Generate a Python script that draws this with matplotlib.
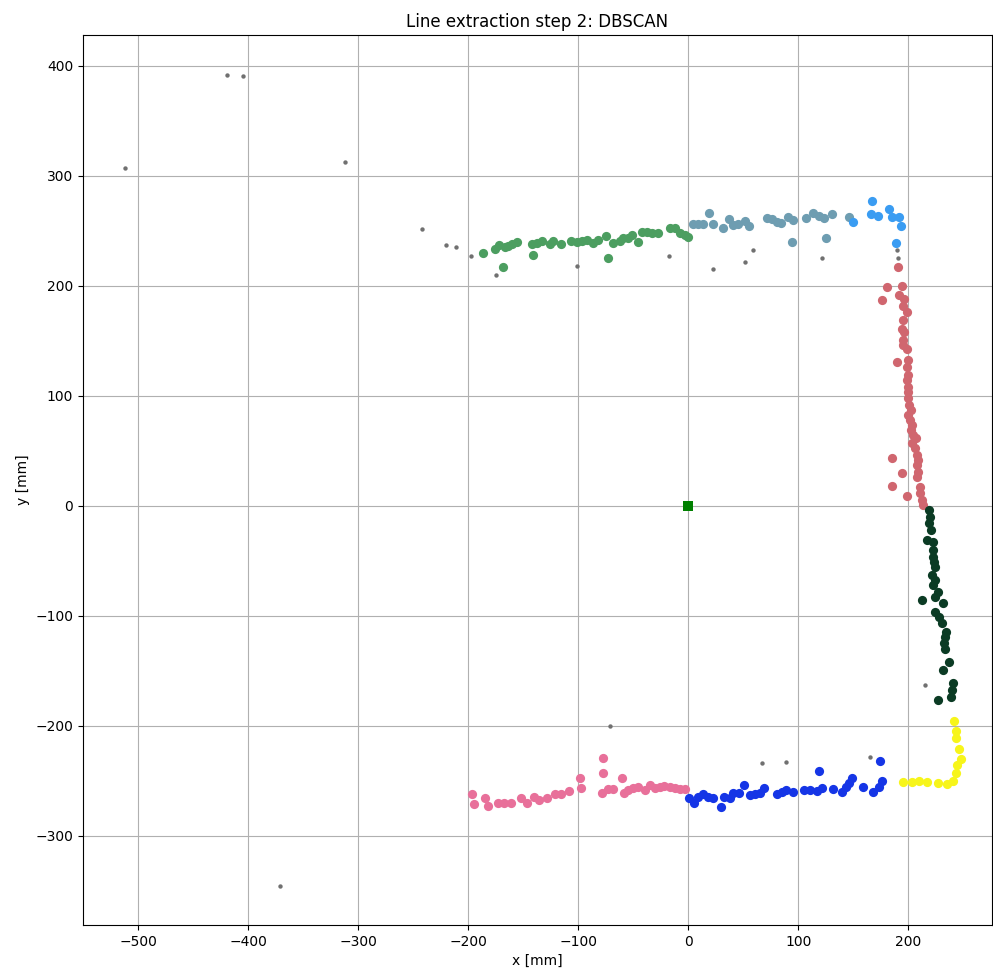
import numpy as np
import matplotlib
matplotlib.use("Agg")
import matplotlib.pyplot as plt

# Cluster points (x, y) in mm, one array per DBSCAN cluster
green_x = [-186.4, -175.5, -171.8, -168.2, -166.4, -163.6, -160.0, -155.5, -141.8, -140.9,
           -137.3, -132.7, -125.5, -122.7, -115.5, -106.4, -100.9, -96.4, -91.8, -86.4,
           -81.8, -74.5, -72.7, -68.2, -61.8, -59.1, -54.5, -50.9, -45.5, -41.8,
           -37.3, -32.7, -27.3, -16.4, -11.8, -7.3, -2.7, 0.0]
green_y = [230.0, 233.6, 237.3, 217.3, 235.5, 236.4, 238.2, 240.0, 238.2, 228.2,
           239.1, 240.9, 238.2, 240.9, 238.2, 240.9, 240.0, 240.9, 241.8, 239.1,
           241.8, 245.5, 225.5, 239.1, 240.9, 243.6, 243.6, 246.4, 240.0, 249.1,
           249.1, 248.2, 248.2, 252.7, 252.7, 248.2, 246.4, 244.5]

steel_x = [4.5, 9.1, 13.6, 19.1, 22.7, 31.8, 37.3, 40.9, 45.5, 51.8, 55.5, 71.8, 76.4,
           80.9, 84.5, 90.9, 95.5, 94.5, 107.3, 113.6, 119.1, 123.6, 130.9, 125.5, 146.4]
steel_y = [256.4, 256.4, 256.4, 266.4, 256.4, 252.7, 260.9, 255.5, 256.4, 259.1, 254.5,
           261.8, 260.9, 258.2, 257.3, 262.7, 260.0, 240.0, 261.8, 266.4, 263.6, 261.8,
           265.5, 243.6, 262.7]

sky_x = [150.0, 167.3, 166.4, 172.7, 182.7, 185.5, 191.8, 193.6, 189.1]
sky_y = [258.2, 277.3, 265.5, 263.6, 270.0, 262.7, 262.7, 254.5, 239.1]

red_x = [190.9, 180.9, 194.5, 176.4, 191.8, 196.4, 195.5, 199.1, 195.5, 194.5, 196.4,
         195.5, 195.5, 199.1, 190.0, 200.0, 199.1, 200.0, 199.1, 200.0, 200.0, 200.0,
         200.9, 202.7, 200.0, 201.8, 203.6, 202.7, 204.5, 207.3, 203.6, 206.4, 208.2,
         209.1, 208.2, 185.5, 194.5, 209.1, 208.2, 185.5, 210.9, 210.9, 199.1, 212.7, 213.6]
red_y = [217.3, 199.1, 200.0, 187.3, 191.8, 188.2, 181.8, 176.4, 169.1, 160.9, 158.2,
         150.9, 146.4, 142.7, 130.9, 132.7, 126.4, 119.1, 114.5, 108.2, 103.6, 98.2,
         91.8, 87.3, 82.7, 78.2, 73.6, 69.1, 64.5, 61.8, 57.3, 52.7, 46.4,
         41.8, 37.3, 43.6, 30.0, 30.9, 26.4, 18.2, 17.3, 11.8, 9.1, 5.5, 0.9]

dark_x = [219.1, 220.0, 219.1, 220.9, 217.3, 222.7, 222.7, 222.7, 223.6, 224.5, 221.8,
          224.5, 222.7, 227.3, 224.5, 212.7, 231.8, 224.5, 228.2, 230.9, 234.5, 233.6,
          232.7, 233.6, 237.3, 231.8, 240.9, 240.0, 239.1, 227.3]
dark_y = [-3.6, -10.0, -15.5, -21.8, -30.9, -32.7, -40.0, -46.4, -50.9, -55.5, -62.7,
          -67.3, -71.8, -78.2, -82.7, -85.5, -88.2, -96.4, -100.9, -106.4, -114.5, -119.1,
          -124.5, -130.0, -141.8, -149.1, -160.9, -167.3, -173.6, -176.4]

pink_x = [-196.4, -194.5, -184.5, -181.8, -172.7, -167.3, -160.9, -151.8, -146.4, -140.0,
          -135.5, -128.2, -120.9, -115.5, -108.2, -98.2, -97.3, -77.3, -77.3, -78.2,
          -72.7, -68.2, -60.0, -58.2, -54.5, -50.0, -45.5, -39.1, -34.5, -30.0,
          -25.5, -21.8, -16.4, -11.8, -7.3, -2.7]
pink_y = [-261.8, -270.9, -265.5, -272.7, -270.0, -270.0, -270.0, -265.5, -270.0, -264.5,
          -267.3, -265.5, -261.8, -261.8, -259.1, -247.3, -256.4, -229.1, -242.7, -260.9,
          -257.3, -257.3, -247.3, -260.9, -258.2, -256.4, -255.5, -258.2, -253.6, -256.4,
          -255.5, -254.5, -255.5, -256.4, -257.3, -257.3]

blue_x = [0.9, 5.5, 9.1, 13.6, 18.2, 22.7, 30.0, 32.7, 38.2, 40.9, 46.4, 50.9, 56.4, 60.9,
          65.5, 69.1, 80.9, 85.5, 89.1, 95.5, 105.5, 110.9, 117.3, 121.8, 119.1, 131.8,
          140.0, 143.6, 146.4, 149.1, 159.1, 168.2, 173.6, 176.4, 174.5]
blue_y = [-265.5, -270.0, -264.5, -261.8, -264.5, -265.5, -273.6, -264.5, -265.5, -260.9,
          -260.9, -253.6, -262.7, -261.8, -260.9, -256.4, -261.8, -260.0, -258.2, -260.0,
          -258.2, -258.2, -259.1, -256.4, -240.9, -257.3, -260.0, -255.5, -251.8, -247.3,
          -255.5, -260.0, -255.5, -250.0, -231.8]

yellow_x = [195.5, 203.6, 210.0, 217.3, 227.3, 235.5, 240.9, 243.6, 244.5, 248.2, 246.4,
            243.6, 243.6, 241.8]
yellow_y = [-250.9, -250.9, -250.0, -250.9, -251.8, -252.7, -250.0, -242.7, -235.5, -230.0,
            -220.9, -210.9, -204.5, -195.5]

# Points labelled as noise
noise_x = [-511.8, -419.1, -404.5, -311.8, -241.8, -220.0, -210.9, -197.3, -174.5, -100.9,
           -17.3, 22.7, 51.8, 59.1, 121.8, 190.0, 190.9, 215.5, -70.9, 67.3, 89.1, 165.5,
           -370.9]
noise_y = [307.3, 391.8, 390.9, 312.7, 251.8, 237.3, 235.5, 227.3, 210.0, 218.2,
           227.3, 215.5, 221.8, 232.7, 225.5, 232.7, 225.5, -162.7, -200.0, -233.6, -232.7,
           -228.2, -345.5]

clusters = [
    (green_x, green_y, "#4c9e60"),
    (steel_x, steel_y, "#6e9db1"),
    (sky_x, sky_y, "#3a9cf2"),
    (red_x, red_y, "#d0666f"),
    (dark_x, dark_y, "#0b3b24"),
    (pink_x, pink_y, "#e8709a"),
    (blue_x, blue_y, "#1535e6"),
    (yellow_x, yellow_y, "#f7f51a"),
]

fig = plt.figure(figsize=(9.93, 9.76), dpi=100)
ax = fig.add_axes([83 / 993, 1 - 925 / 976, (992 - 83) / 993, (925 - 35) / 976])

ax.scatter(noise_x, noise_y, s=10, color="#707070", zorder=3, linewidths=0)
for xs, ys, c in clusters:
    ax.scatter(xs, ys, s=44, color=c, zorder=3, linewidths=0)

# Sensor origin
ax.scatter([0], [0], marker="s", s=45, color="green", zorder=4, linewidths=0)

ax.set_xlim(-550, 276)
ax.set_ylim(-381, 428)
ax.set_xticks(np.arange(-500, 201, 100))
ax.set_yticks(np.arange(-300, 401, 100))
ax.grid(True, color="#b0b0b0", linewidth=0.8)
ax.set_axisbelow(True)
ax.set_xlabel("x [mm]")
ax.set_ylabel("y [mm]")
ax.set_title("Line extraction step 2: DBSCAN")

fig.savefig("out.png", dpi=100)
